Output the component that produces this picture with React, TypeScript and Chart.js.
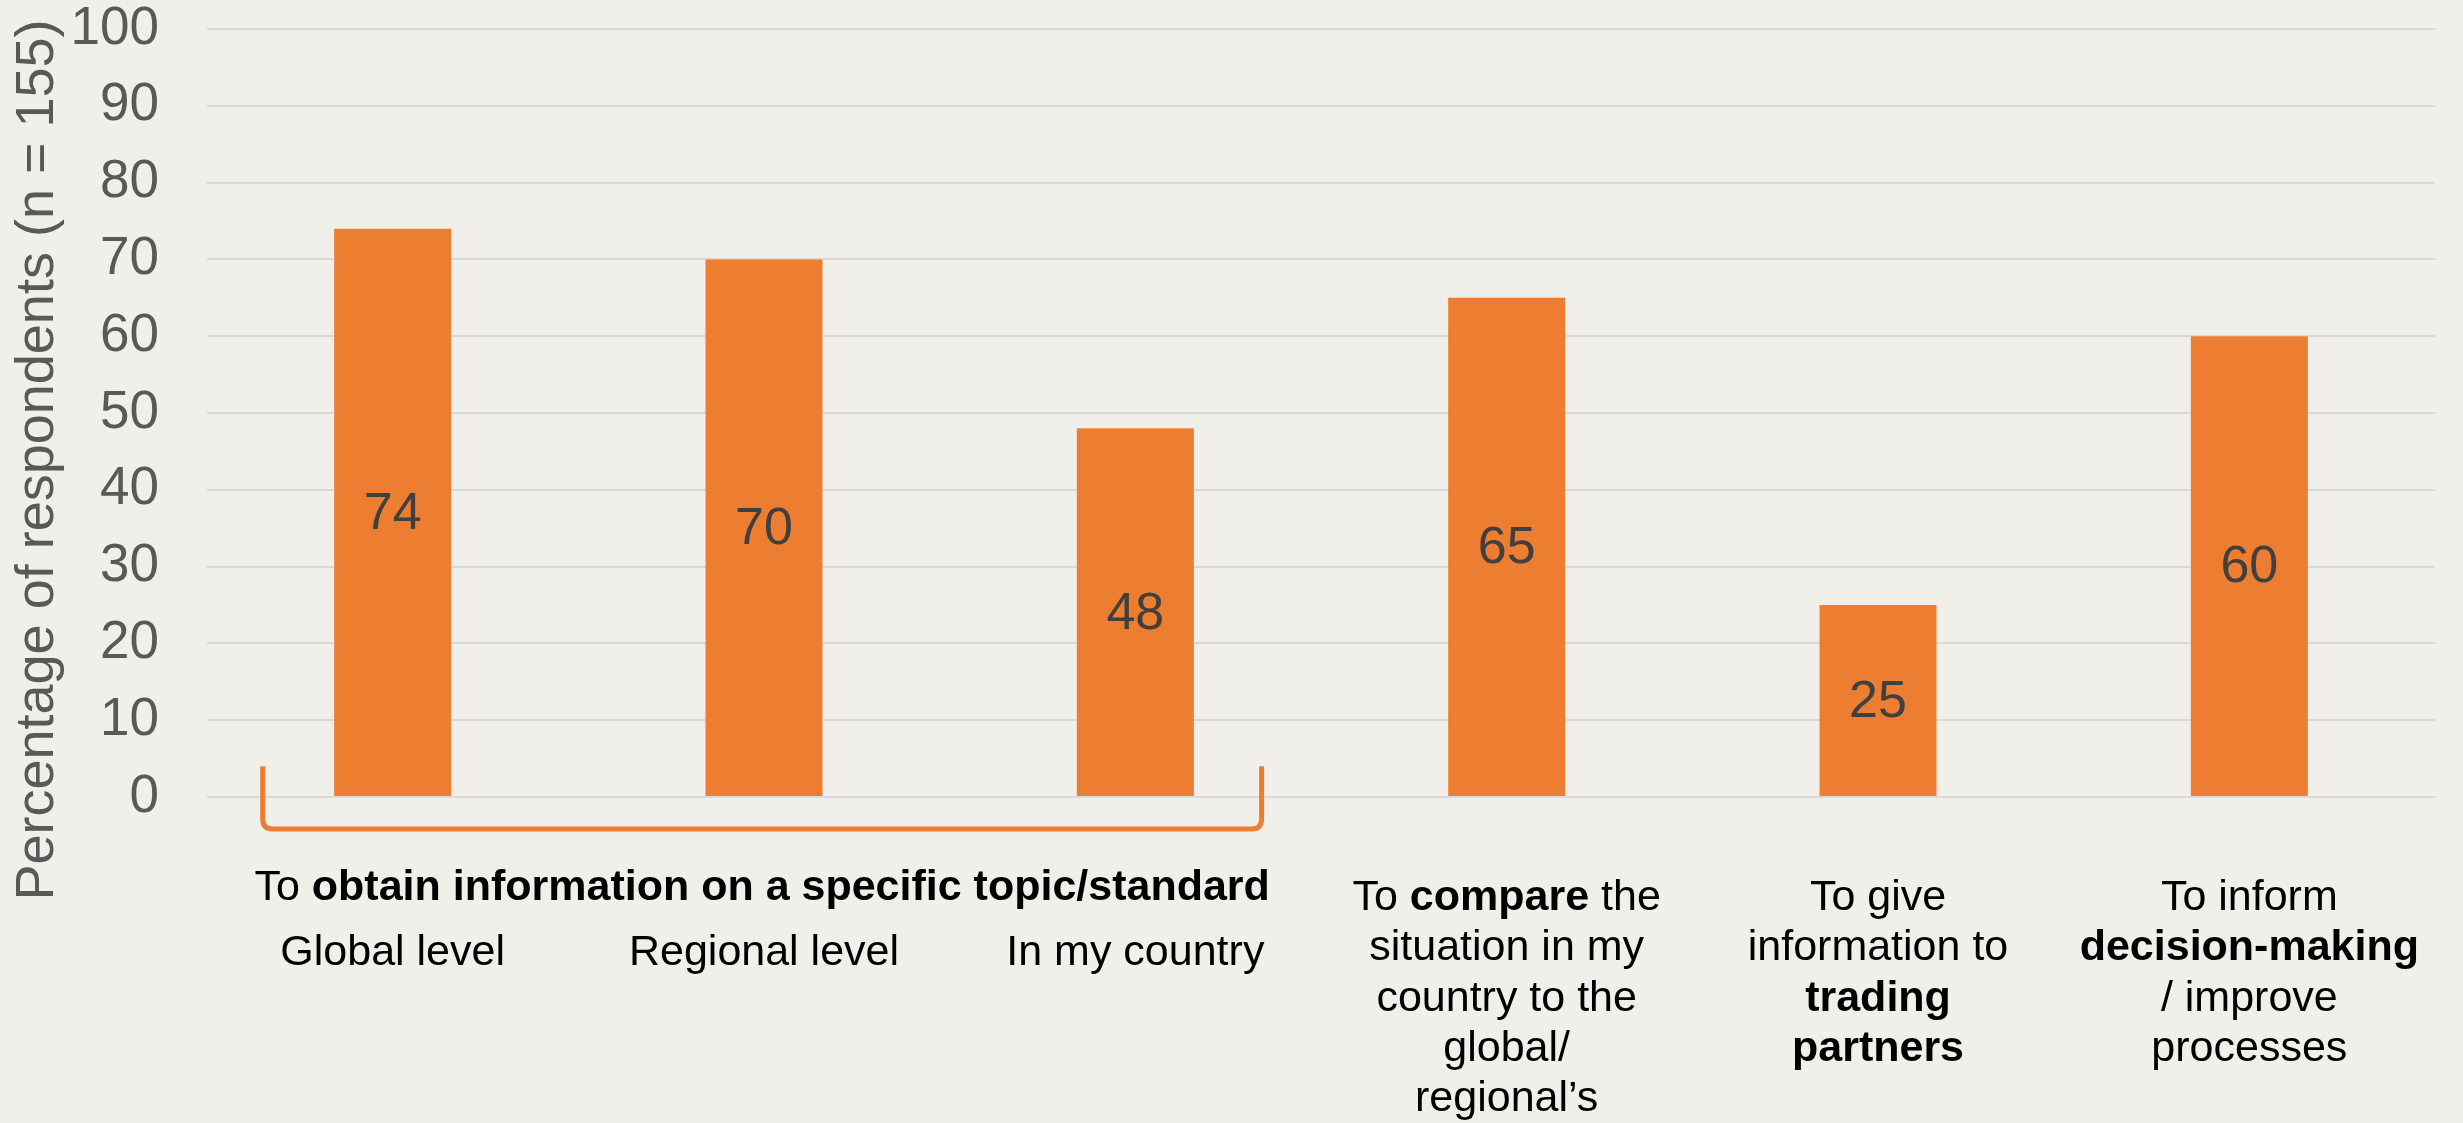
import React, { useEffect, useRef } from "react";
import { Chart, registerables } from "chart.js";

Chart.register(...registerables);

// ---- data ----
const categories = [
  "Global level",
  "Regional level",
  "In my country",
  "To compare the situation in my country to the global/ regional’s",
  "To give information to trading partners",
  "To inform decision-making / improve processes",
];
const values = [74, 70, 48, 65, 25, 60];
const yMin = 0;
const yMax = 100;
const yStep = 10;
const yTitle = "Percentage of respondents (n = 155)";
const groupHeader = "To **obtain information on a specific topic/standard**";
const groupMembers = [0, 1, 2];
const labelLines: string[][] = [
  ["Global level"],
  ["Regional level"],
  ["In my country"],
  ["To **compare** the", "situation in my", "country to the", "global/", "regional’s"],
  ["To give", "information to", "**trading**", "**partners**"],
  ["To inform", "**decision-making**", "/ improve", "processes"],
];

// ---- style ----
const BG = "#F0EFEA";
const ORANGE = "#ED7D31";
const FONT = "'Liberation Sans', Arial, sans-serif";

function drawRich(ctx: CanvasRenderingContext2D, text: string, cx: number, y: number, size: number) {
  const parts = text.split("**");
  const segs = parts.map((t, i) => ({ t, bold: i % 2 === 1 })).filter((s) => s.t.length > 0);
  let total = 0;
  const widths = segs.map((s) => {
    ctx.font = `${s.bold ? "bold " : ""}${size}px ${FONT}`;
    const w = ctx.measureText(s.t).width;
    total += w;
    return w;
  });
  let x = cx - total / 2;
  ctx.textAlign = "left";
  ctx.textBaseline = "alphabetic";
  segs.forEach((s, i) => {
    ctx.font = `${s.bold ? "bold " : ""}${size}px ${FONT}`;
    ctx.fillText(s.t, x, y);
    x += widths[i];
  });
}

const customPlugin = {
  id: "custom",
  beforeDraw(chart: any) {
    const ctx = chart.ctx;
    ctx.save();
    ctx.fillStyle = BG;
    ctx.fillRect(0, 0, chart.width, chart.height);
    ctx.restore();
  },
  afterDraw(chart: any) {
    const ctx: CanvasRenderingContext2D = chart.ctx;
    const xs = chart.scales.x;
    const ys = chart.scales.y;
    const bottom = ys.bottom;
    const catW = xs.getPixelForValue(1) - xs.getPixelForValue(0);

    // data labels
    const meta = chart.getDatasetMeta(0);
    ctx.save();
    ctx.fillStyle = "#404040";
    ctx.font = `52px ${FONT}`;
    ctx.textAlign = "center";
    ctx.textBaseline = "middle";
    meta.data.forEach((bar: any, i: number) => {
      ctx.fillText(String(values[i]), bar.x, (bar.y + bar.base) / 2 + 2);
    });
    ctx.restore();

    // y title
    ctx.save();
    ctx.fillStyle = "#595959";
    ctx.font = `54px ${FONT}`;
    ctx.translate(53, 460);
    ctx.rotate(-Math.PI / 2);
    ctx.textAlign = "center";
    ctx.textBaseline = "alphabetic";
    ctx.fillText(yTitle, 0, 0);
    ctx.restore();

    // bracket
    const first = groupMembers[0];
    const last = groupMembers[groupMembers.length - 1];
    const bl = xs.getPixelForValue(first) - catW * 0.35;
    const br = xs.getPixelForValue(last) + catW * 0.34;
    const bt = ys.getPixelForValue(4);
    const bb = bottom + 32;
    const r = 10;
    ctx.save();
    ctx.strokeStyle = ORANGE;
    ctx.lineWidth = 5;
    ctx.beginPath();
    ctx.moveTo(bl, bt);
    ctx.lineTo(bl, bb - r);
    ctx.quadraticCurveTo(bl, bb, bl + r, bb);
    ctx.lineTo(br - r, bb);
    ctx.quadraticCurveTo(br, bb, br, bb - r);
    ctx.lineTo(br, bt);
    ctx.stroke();
    ctx.restore();

    // category labels
    ctx.save();
    ctx.fillStyle = "#000000";
    const size = 43;
    const groupCenter = (bl + br) / 2;
    drawRich(ctx, groupHeader, groupCenter, bottom + 103, size);
    labelLines.forEach((lines, i) => {
      const cx = xs.getPixelForValue(i);
      const isGroup = groupMembers.includes(i);
      const y0 = isGroup ? bottom + 168 : bottom + 113;
      lines.forEach((ln, j) => {
        drawRich(ctx, ln, cx, y0 + j * 50.3, size);
      });
    });
    ctx.restore();
  },
};

export default function App() {
  const ref = useRef<HTMLCanvasElement | null>(null);
  useEffect(() => {
    document.body.style.margin = "0";
    document.body.style.background = BG;
    if (!ref.current) return;
    const chart = new Chart(ref.current, {
      type: "bar",
      data: {
        labels: categories,
        datasets: [
          {
            data: values,
            backgroundColor: ORANGE,
            borderWidth: 0,
            barPercentage: 0.315,
            categoryPercentage: 1,
          },
        ],
      },
      options: {
        animation: false,
        responsive: true,
        maintainAspectRatio: false,
        devicePixelRatio: 1,
        events: [],
        layout: { padding: { left: 0, right: 28, top: 29, bottom: 326 } },
        plugins: {
          legend: { display: false },
          tooltip: { enabled: false },
          title: { display: false },
        },
        scales: {
          x: {
            display: false,
            grid: { display: false },
          },
          y: {
            min: yMin,
            max: yMax,
            afterFit: (scale: any) => {
              scale.width = 207;
              scale.paddingTop = 0;
              scale.paddingBottom = 0;
            },
            border: { display: false },
            grid: { color: "#D9D9D9", lineWidth: 2, drawTicks: false },
            ticks: {
              stepSize: yStep,
              padding: 48,
              color: "#595959",
              font: { size: 53, family: FONT },
            },
          },
        },
      },
      plugins: [customPlugin],
    });
    return () => chart.destroy();
  }, []);
  return (
    <div style={{ position: "fixed", left: 0, top: 0, width: 2463, height: 1123, background: BG }}>
      <canvas ref={ref} />
    </div>
  );
}
